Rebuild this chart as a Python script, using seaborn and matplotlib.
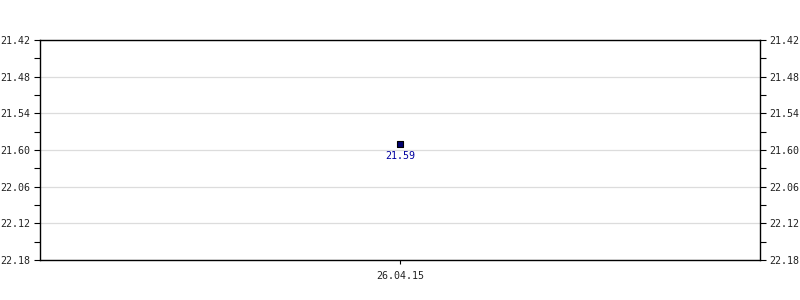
import matplotlib
matplotlib.use("Agg")
import matplotlib.pyplot as plt
import seaborn as sns
import pandas as pd
import numpy as np

dates = ["26.04.15"]
values = [21.59]
value_labels = ["21.59"]
y_ticks = [21.42, 21.48, 21.54, 21.60, 21.66, 21.72, 21.78]
y_tick_labels = ["21.42", "21.48", "21.54", "21.60", "22.06", "22.12", "22.18"]

sns.set_theme(style="white")
plt.rcParams['font.family'] = ['DejaVu Sans Mono']

df = pd.DataFrame({"date": dates, "value": values})

fig = plt.figure(figsize=(8, 3), dpi=100)
ax = fig.add_axes([40/800, 40/300, 720/800, 220/300])

sns.scatterplot(data=df, x="date", y="value", marker="s", s=16,
                color="#000070", edgecolor="black", linewidth=0.8, ax=ax, zorder=5)

for d, v, lab in zip(dates, values, value_labels):
    ax.annotate(lab, (d, v), xytext=(0, -5), textcoords="offset points",
                ha="center", va="top", fontsize=7.2, color="#0000a0")

ax.set_xlim(-0.5, 0.5)
ax.set_ylim(y_ticks[-1], y_ticks[0])
ax.set_yticks(y_ticks)
ax.set_yticklabels(y_tick_labels)
ax.set_yticks([(a + b) / 2 for a, b in zip(y_ticks[:-1], y_ticks[1:])], minor=True)
ax.set_xlabel("")
ax.set_ylabel("")

ax.grid(axis="y", which="major", color="#dcdcdc", linewidth=0.9)
ax.grid(axis="x", visible=False)
for sp in ax.spines.values():
    sp.set_visible(True)
    sp.set_color("black")
    sp.set_linewidth(1.0)

ax.tick_params(axis="y", which="both", left=True, right=True, labelleft=True, labelright=True,
               direction="out", length=4, width=0.8, color="black", labelsize=7.2, pad=3,
               labelcolor="#222222")
ax.tick_params(axis="x", which="major", bottom=True, direction="out", length=3, width=0.8,
               color="black", labelsize=7.2, pad=5, labelcolor="#222222")

fig.savefig("out.png", dpi=100)
